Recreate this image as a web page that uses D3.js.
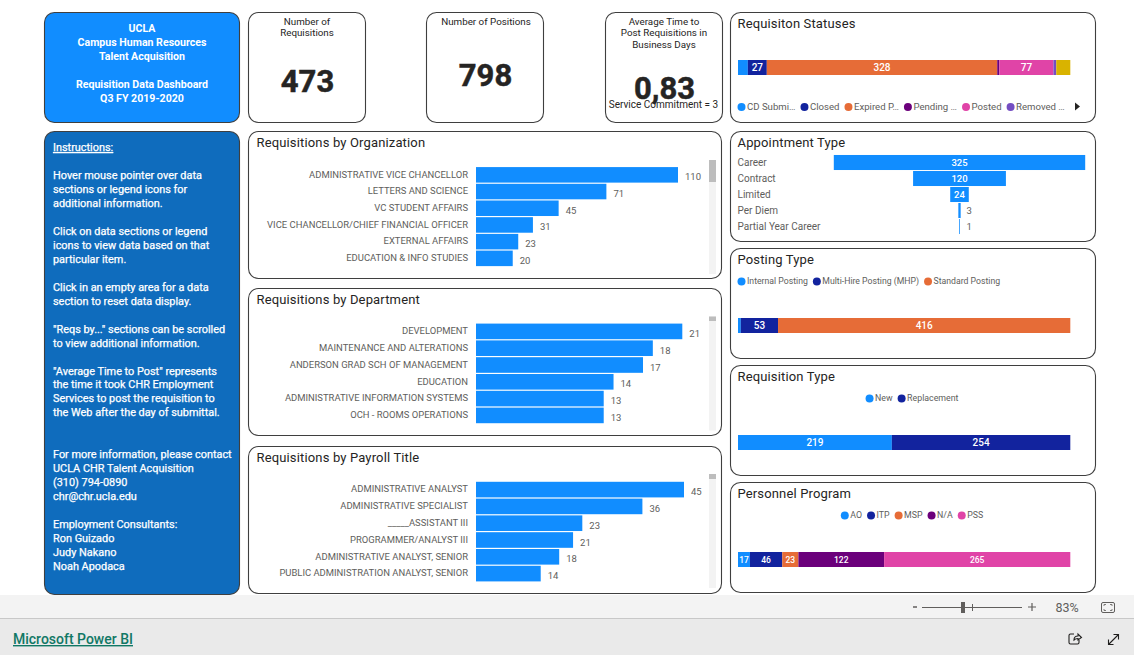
<!DOCTYPE html>
<html><head><meta charset="utf-8">
<script src="https://cdn.jsdelivr.net/npm/d3@7/dist/d3.min.js"></script>
<style>
html,body{margin:0;padding:0;background:#fff;overflow:hidden}
svg{display:block}
text{font-family:Roboto,sans-serif}
</style></head><body>
<svg id="c" width="1134" height="655"></svg>
<script>
// ---------- data ----------
const headerLines = ["UCLA","Campus Human Resources","Talent Acquisition","","Requisition Data Dashboard","Q3 FY 2019-2020"];
const instructionLines = ["Instructions:","","Hover mouse pointer over data","sections or legend icons for","additional information.","",
"Click on data sections or legend","icons to view data based on that","particular item.","",
"Click in an empty area for a data","section to reset data display.","",
"\"Reqs by...\" sections can be scrolled","to view additional information.","",
"\"Average Time to Post\" represents","the time it took CHR Employment","Services to post the requisition to","the Web after the day of submittal.","","",
"For more information, please contact","UCLA CHR Talent Acquisition","(310) 794-0890","chr@chr.ucla.edu","",
"Employment Consultants:","Ron Guizado","Judy Nakano","Noah Apodaca"];

const orgNames = ["ADMINISTRATIVE VICE CHANCELLOR","LETTERS AND SCIENCE","VC STUDENT AFFAIRS","VICE CHANCELLOR/CHIEF FINANCIAL OFFICER","EXTERNAL AFFAIRS","EDUCATION & INFO STUDIES"];
const orgValues = [110,71,45,31,23,20];
const deptNames = ["DEVELOPMENT","MAINTENANCE AND ALTERATIONS","ANDERSON GRAD SCH OF MANAGEMENT","EDUCATION","ADMINISTRATIVE INFORMATION SYSTEMS","OCH - ROOMS OPERATIONS"];
const deptValues = [21,18,17,14,13,13];
const titleNames = ["ADMINISTRATIVE ANALYST","ADMINISTRATIVE SPECIALIST","_____ASSISTANT III","PROGRAMMER/ANALYST III","ADMINISTRATIVE ANALYST, SENIOR","PUBLIC ADMINISTRATION ANALYST, SENIOR"];
const titleValues = [45,36,23,21,18,14];

const apptNames = ["Career","Contract","Limited","Per Diem","Partial Year Career"];
const apptValues = [325,120,24,3,1];

const statusLegend = ["CD Submi…","Closed","Expired P…","Pending …","Posted","Removed …"];
const statusValues = [14,27,328,3,77,4,20];
const postingLegend = ["Internal Posting","Multi-Hire Posting (MHP)","Standard Posting"];
const postingValues = [4,53,416];
const reqTypeLegend = ["New","Replacement"];
const reqTypeValues = [219,254];
const programLegend = ["AO","ITP","MSP","N/A","PSS"];
const programValues = [17,46,23,122,265];

const palette = ["#118DFF","#12239E","#E66C37","#6B007B","#E044A7","#744EC2","#D9B300"];

// ---------- helpers ----------
const svg = d3.select("#c");
const BLUE = palette[0];
const INK = "#252423", GREY = "#605E5C";

function panel(x0,y0,x1,y1,fill){
  svg.append("rect").attr("x",x0+.5).attr("y",y0+.5).attr("width",x1-x0-1).attr("height",y1-y0-1)
    .attr("rx",10).attr("fill",fill||"#fff").attr("stroke","#3f3f3f").attr("stroke-width",1.1);
}
function title(t,x,y){
  svg.append("text").attr("x",x).attr("y",y).attr("font-size",13).attr("fill",INK).attr("letter-spacing",.15).text(t);
}
function hbar(names,values,opt){
  const g = svg.append("g");
  const y = d3.scaleBand().domain(names).range([opt.y0,opt.y0+opt.step*names.length]).paddingInner(.07).paddingOuter(.035);
  const x = d3.scaleLinear().domain([0,opt.max]).range([opt.x0,opt.x1]);
  g.selectAll("rect").data(values).join("rect")
    .attr("x",opt.x0).attr("y",(d,i)=>y(names[i])).attr("width",d=>x(d)-opt.x0).attr("height",y.bandwidth()).attr("fill",BLUE);
  g.selectAll("text.v").data(values).join("text").attr("class","v")
    .attr("x",d=>x(d)+7).attr("y",(d,i)=>y(names[i])+y.bandwidth()/2+5.5)
    .attr("font-size",9.5).attr("fill",GREY).text(d=>d);
  const ax = svg.append("g").attr("transform",`translate(${opt.x0-8},0)`)
    .call(d3.axisLeft(y).tickSize(0).tickPadding(0));
  ax.select(".domain").remove();
  ax.selectAll("text").attr("font-size",9.45).attr("fill",GREY).attr("font-family","Roboto,sans-serif").attr("dy","0.3em");
  // scrollbar
  svg.append("rect").attr("x",709).attr("y",opt.sb0).attr("width",7).attr("height",114).attr("fill","#f3f3f3");
  svg.append("rect").attr("x",709).attr("y",opt.sb0).attr("width",7).attr("height",opt.thumb).attr("fill","#bdbdbd");
}
function stacked(values,y0,minLabel){
  const total = d3.sum(values);
  const x = d3.scaleLinear().domain([0,total]).range([738,1070.3]);
  const cum = [0,...d3.cumsum(values)];
  const g = svg.append("g");
  g.selectAll("rect").data(values).join("rect")
    .attr("x",(d,i)=>x(cum[i])).attr("y",y0).attr("width",d=>x(d)-x(0)).attr("height",15).attr("fill",(d,i)=>palette[i]);
  g.selectAll("text").data(values).join("text")
    .attr("x",(d,i)=>x(cum[i]+d/2)).attr("y",y0+11).attr("text-anchor","middle")
    .attr("font-size",values.length===5?8.5:10).attr("font-weight",500).attr("fill","#fff")
    .text(d=>(x(d)-x(0))>=minLabel?d:"");
}
function legend(items,cy,opt){
  const g = svg.append("g");
  let cx = 0;
  items.forEach((t,i)=>{
    const n = g.append("g");
    n.append("circle").attr("cx",cx).attr("cy",.5).attr("r",4).attr("fill",palette[i]);
    const tx = n.append("text").attr("x",cx+5.5).attr("y",3).attr("font-size",opt.fs).attr("fill",GREY).text(t);
    cx += 5.5 + tx.node().getComputedTextLength() + opt.gap;
  });
  const w = cx - opt.gap;
  const left = opt.center!==undefined ? opt.center - w/2 : opt.left;
  g.attr("transform",`translate(${left},${cy})`);
}

// ---------- page chrome ----------
svg.append("rect").attr("x",0).attr("y",595).attr("width",1134).attr("height",24).attr("fill","#f3f3f3");
svg.append("line").attr("x1",0).attr("x2",1134).attr("y1",618.5).attr("y2",618.5).attr("stroke","#c8c8c8");
svg.append("rect").attr("x",0).attr("y",619).attr("width",1134).attr("height",36).attr("fill","#eaeaea");

// ---------- left column ----------
panel(44,12,240,123,BLUE);
svg.append("g").selectAll("text").data(headerLines).join("text")
  .attr("x",142).attr("y",(d,i)=>32+i*14).attr("text-anchor","middle")
  .attr("font-family","'Liberation Sans',Arial,sans-serif").attr("font-weight",700).attr("font-size",10.6).attr("fill","#fff").text(d=>d);

panel(44,131,240,595,"#0F6CBD");
svg.append("g").selectAll("text").data(instructionLines).join("text")
  .attr("x",53).attr("y",(d,i)=>151+i*13.97)
  .attr("font-family","'Liberation Sans',Arial,sans-serif").attr("font-size",10.9).attr("font-weight",400)
  .attr("stroke","#fff").attr("stroke-width",.25)
  .attr("text-decoration",(d,i)=>i===0?"underline":null).attr("fill","#fff").text(d=>d);

// ---------- KPI cards ----------
[[248,366,307],[426,544,485],[605,723,664]].forEach(c=>panel(c[0],12,c[1],123));
const kpiTitles = [[307,["Number of","Requisitions"]],[486,["Number of Positions"]],[664,["Average Time to","Post Requisitions in","Business Days"]]];
kpiTitles.forEach(k=>k[1].forEach((t,i)=>svg.append("text").attr("x",k[0]).attr("y",24.5+i*11.5)
  .attr("text-anchor","middle").attr("font-size",9.8).attr("fill",INK).text(t)));
const kpiNumbers = [[307.5,92,"473"],[485.5,86,"798"],[664.5,99,"0,83"]];
kpiNumbers.forEach(k=>svg.append("text").attr("x",k[0]).attr("y",k[1]).attr("text-anchor","middle")
  .attr("font-size",31).attr("font-weight",700).attr("stroke",INK).attr("stroke-width",.5).attr("fill",INK).text(k[2]));
svg.append("text").attr("x",663.5).attr("y",108).attr("text-anchor","middle").attr("font-size",10).attr("fill",INK).text("Service Commitment = 3");

// ---------- bar panels ----------
panel(248,131,722,279); title("Requisitions by Organization",256.5,147);
hbar(orgNames,orgValues,{x0:476,x1:678,max:110,y0:166.5,step:16.7,sb0:160,thumb:22});
panel(248,288,722,436); title("Requisitions by Department",256.5,304);
hbar(deptNames,deptValues,{x0:476,x1:682.3,max:21,y0:323,step:16.8,sb0:316.5,thumb:4.5});
panel(248,446,722,594); title("Requisitions by Payroll Title",256.5,462);
hbar(titleNames,titleValues,{x0:476,x1:684,max:45,y0:481.2,step:16.8,sb0:474,thumb:5});

// ---------- right column ----------
panel(730,12,1096,123); title("Requisiton Statuses",737.5,28);
stacked(statusValues,60,15);
legend(statusLegend,106.5,{left:741.5,fs:9.6,gap:9});
svg.append("path").attr("d","M1075 102.5L1080 106.5L1075 110.5Z").attr("fill","#252423");

panel(730,131,1096,242); title("Appointment Type",737.5,146.7);
{
  const y = d3.scaleBand().domain(apptNames).range([154.5,234.5]).paddingInner(.06).paddingOuter(.03);
  const half = d3.scaleLinear().domain([0,325]).range([0,125.7]);
  const g = svg.append("g");
  const cx = 959.5;
  const inside = d => half(d) > 6;
  g.selectAll("rect").data(apptValues).join("rect")
    .attr("x",d=>cx-half(d)).attr("y",(d,i)=>y(apptNames[i])).attr("width",d=>2*half(d)).attr("height",y.bandwidth()).attr("fill",BLUE);
  g.selectAll("text.n").data(apptNames).join("text").attr("class","n")
    .attr("x",737.5).attr("y",d=>y(d)+y.bandwidth()/2+3).attr("font-size",10).attr("fill",GREY).text(d=>d);
  g.selectAll("text.v").data(apptValues).join("text").attr("class","v")
    .attr("x",d=>inside(d)?cx:cx+7).attr("y",(d,i)=>y(apptNames[i])+y.bandwidth()/2+3.5)
    .attr("text-anchor",d=>inside(d)?"middle":"start")
    .attr("font-size",9.5).attr("font-weight",d=>inside(d)?500:400)
    .attr("fill",d=>inside(d)?"#fff":GREY).text(d=>d);
}

panel(730,248,1096,359); title("Posting Type",737.5,263.7);
legend(postingLegend,281,{left:741.5,fs:8.7,gap:9});
stacked(postingValues,318,15);

panel(730,365,1096,476); title("Requisition Type",737.5,380.7);
legend(reqTypeLegend,398,{center:914,fs:8.8,gap:9});
stacked(reqTypeValues,435,15);

panel(730,482,1096,593); title("Personnel Program",737.5,497.7);
legend(programLegend,515,{center:914,fs:8.8,gap:9});
stacked(programValues,552,11);

// ---------- footer ----------
svg.append("text").attr("x",13).attr("y",644).attr("font-size",14).attr("font-weight",500).attr("fill","#117865").attr("text-decoration","underline").text("Microsoft Power BI");
const ui = svg.append("g").attr("stroke","#605E5C").attr("fill","none");
ui.append("line").attr("x1",913).attr("x2",917).attr("y1",607).attr("y2",607).attr("stroke-width",1.5);
ui.append("line").attr("x1",922).attr("x2",1022).attr("y1",607.5).attr("y2",607.5);
ui.append("line").attr("x1",972.5).attr("x2",972.5).attr("y1",604).attr("y2",611);
svg.append("rect").attr("x",961).attr("y",602).attr("width",4).attr("height",11).attr("fill","#605E5C");
ui.append("path").attr("d","M1028 607H1036M1032 603V611").attr("stroke-width",1.2);
svg.append("text").attr("x",1067).attr("y",611.5).attr("text-anchor","middle").attr("font-size",12.5).attr("fill",GREY).text("83%");
ui.append("rect").attr("x",1101.5).attr("y",602.5).attr("width",13).attr("height",10).attr("rx",1.5);
ui.append("path").attr("d","M1104 606V604.5H1106M1112 606V604.5H1110M1104 609V610.5H1106M1112 609V610.5H1110").attr("stroke-width",.8);
const k = svg.append("g").attr("stroke","#201f1e").attr("fill","none").attr("stroke-width",1.1);
k.append("path").attr("d","M1074 634H1070.5Q1069 634 1069 635.5V642.5Q1069 644 1070.5 644H1077.5Q1079 644 1079 642.5V640");
k.append("path").attr("d","M1074 640Q1074 636 1078 636V634L1081.5 637.5L1078 640V638.5Q1075.5 638.5 1074 640Z");
k.append("path").attr("d","M1108.5 644.5L1118.5 634.5M1113.5 634.5H1118.5V639.5M1108.5 639.5V644.5H1113.5");
</script>
</body></html>
